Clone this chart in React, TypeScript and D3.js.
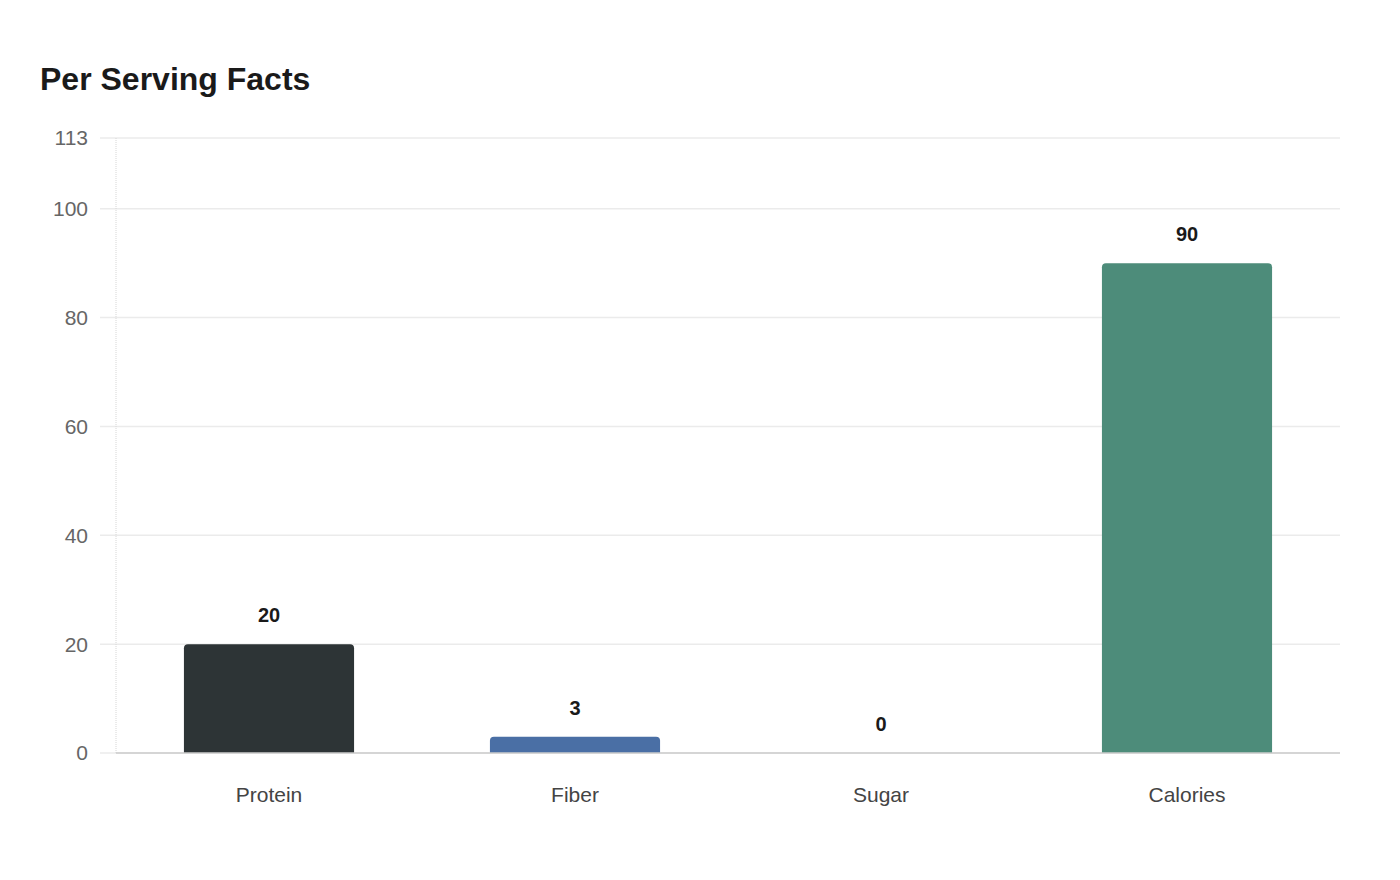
import React, {useEffect, useRef} from 'react';
import * as d3 from 'd3';

const categories = ['Protein', 'Fiber', 'Sugar', 'Calories'];
const values = [20, 3, 0, 90];
const barColors = ['#2d3436', '#4a6fa5', '#d98c5f', '#4d8c7a'];
const yTicks = [0, 20, 40, 60, 80, 100, 113];
const Y_MAX = 113;

const WIDTH = 1400;
const HEIGHT = 880;
const FONT = '"Liberation Sans", Arial, sans-serif';

const App: React.FC = () => {
    const svgRef = useRef<SVGSVGElement | null>(null);

    useEffect(() => {
        if (svgRef.current) drawChart();
    }, []);

    const drawChart = () => {
        const svg = d3.select(svgRef.current);
        svg.selectAll('*').remove();

        const margin = {top: 138, right: 60, bottom: 127, left: 116};
        const innerW = WIDTH - margin.left - margin.right;
        const innerH = HEIGHT - margin.top - margin.bottom;

        svg.append('text')
            .attr('x', 40)
            .attr('y', 90)
            .style('font-family', FONT)
            .style('font-size', '32px')
            .style('font-weight', 'bold')
            .style('fill', '#1a1a1a')
            .text('Per Serving Facts');

        const g = svg.append('g').attr('transform', `translate(${margin.left},${margin.top})`);

        const x = d3.scaleBand<string>().domain(categories).range([0, innerW]).paddingInner(0.444).paddingOuter(0.222);
        const y = d3.scaleLinear().domain([0, Y_MAX]).range([innerH, 0]);

        // gridlines
        g.selectAll('.grid')
            .data(yTicks)
            .enter()
            .append('line')
            .attr('x1', -16)
            .attr('x2', innerW)
            .attr('y1', (d) => y(d))
            .attr('y2', (d) => y(d))
            .attr('stroke', '#ebebeb')
            .attr('stroke-width', 1.5);

        // y axis line (dotted)
        g.append('line')
            .attr('x1', 0).attr('x2', 0)
            .attr('y1', 0).attr('y2', innerH)
            .attr('stroke', '#d6d6d6')
            .attr('stroke-dasharray', '1,1');

        // y tick labels
        g.selectAll('.ytick')
            .data(yTicks)
            .enter()
            .append('text')
            .attr('x', -28)
            .attr('y', (d) => y(d))
            .attr('dy', '0.35em')
            .attr('text-anchor', 'end')
            .style('font-family', FONT)
            .style('font-size', '21px')
            .style('fill', '#666')
            .text((d) => d);

        // bars with rounded top corners
        const r = 4;
        g.selectAll('.bar')
            .data(values.map((v, i) => ({v, i})).filter((d) => d.v > 0))
            .enter()
            .append('path')
            .attr('d', (d) => {
                const bx = x(categories[d.i]) as number;
                const bw = x.bandwidth();
                const top = y(d.v);
                const bottom = y(0);
                const rr = Math.min(r, bottom - top);
                return `M${bx},${bottom}V${top + rr}Q${bx},${top} ${bx + rr},${top}H${bx + bw - rr}Q${bx + bw},${top} ${bx + bw},${top + rr}V${bottom}Z`;
            })
            .attr('fill', (d) => barColors[d.i]);

        // x baseline
        g.append('line')
            .attr('x1', 0).attr('x2', innerW)
            .attr('y1', innerH).attr('y2', innerH)
            .attr('stroke', '#cccccc')
            .attr('stroke-width', 1.5);

        // value labels
        g.selectAll('.val')
            .data(values)
            .enter()
            .append('text')
            .attr('x', (d, i) => (x(categories[i]) as number) + x.bandwidth() / 2)
            .attr('y', (d) => y(d) - 22)
            .attr('text-anchor', 'middle')
            .style('font-family', FONT)
            .style('font-size', '20px')
            .style('font-weight', 'bold')
            .style('fill', '#1a1a1a')
            .text((d) => d);

        // category labels
        g.selectAll('.cat')
            .data(categories)
            .enter()
            .append('text')
            .attr('x', (d) => (x(d) as number) + x.bandwidth() / 2)
            .attr('y', innerH + 49)
            .attr('text-anchor', 'middle')
            .style('font-family', FONT)
            .style('font-size', '21px')
            .style('fill', '#444')
            .text((d) => d);
    };

    return (
        <svg
            ref={svgRef}
            width={WIDTH}
            height={HEIGHT}
            style={{position: 'absolute', left: 0, top: 0, background: '#fff'}}
        ></svg>
    );
};

export default App;
